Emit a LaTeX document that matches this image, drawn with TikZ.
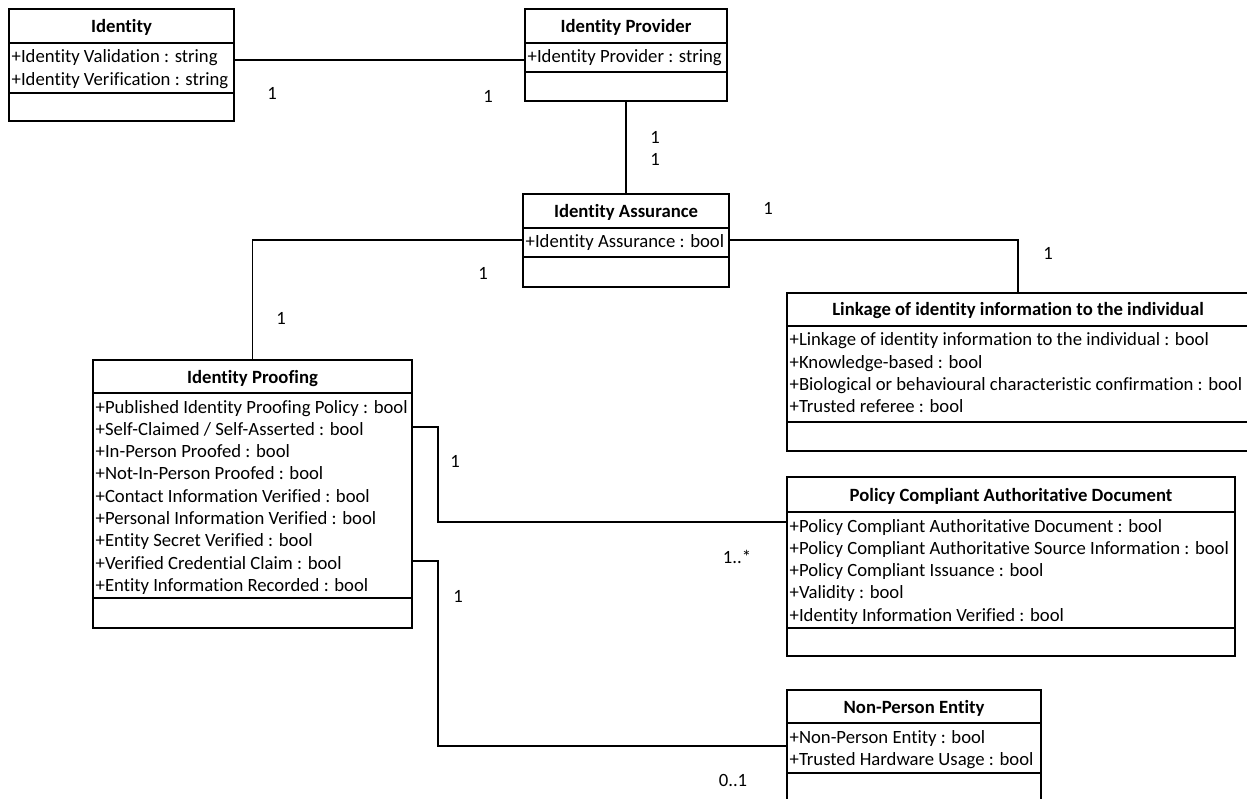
\documentclass[tikz,border=0pt]{standalone}
\usepackage{fontspec}
\setmainfont{Carlito}[Ligatures={NoCommon}]
\usetikzlibrary{fit}

\tikzset{
  txt/.style={font=\fontsize{18.7}{22.3}\selectfont},
  box/.style={draw, line width=1.5pt, inner sep=0pt},
  divider/.style={line width=1.5pt},
  title/.style={txt, font=\fontsize{18.7}{22.3}\selectfont\bfseries, anchor=base, inner sep=0pt},
  attr/.style={txt, anchor=base west, inner sep=0pt},
  mult/.style={txt, inner sep=0pt},
  link/.style={line width=1.5pt},
}

% UML class: name, left, top, right, header bottom, attribute bottom, bottom, title, attributes
\newcommand\umlclass[9]{%
  \coordinate (#1-nw) at (#2,#3);
  \coordinate (#1-se) at (#4,#7);
  \node[box, fit=(#1-nw)(#1-se)] (#1) {};
  \draw[divider] (#2,#5) -- (#4,#5) (#2,#6) -- (#4,#6);
  \node[title] (#1-t) at ({(#2+#4)/2},{(#3+#5)/2+6.5}) {#8};
  \foreach \t [count=\i] in {#9}
    \node[attr] (#1-\i) at ({#2+2.5},{#5+20+(\i-1)*22.3}) {\t};
}

\begin{document}
\begin{tikzpicture}[x=1pt,y=-1pt]
  \useasboundingbox (0,0) rectangle (1247,799);
  \fill[white] (0,0) rectangle (1247,799);
  \clip (0,0) rectangle (1247,799);

  \umlclass{id}{9}{9}{234}{43}{93}{121}{Identity}
    {+Identity Validation : string, +Identity Verification : string}
  \umlclass{ip}{525}{9}{727}{43}{72}{101}{Identity Provider}
    {+Identity Provider : string}
  \umlclass{ia}{523}{194}{729}{228}{257}{287}{Identity Assurance}
    {+Identity Assurance : bool}
  \umlclass{lk}{787}{293}{1249}{326}{422}{451}{Linkage of identity information to the individual}
    {+Linkage of identity information to the individual : bool,
     +Knowledge-based : bool,
     +Biological or behavioural characteristic confirmation : bool,
     +Trusted referee : bool}
  \umlclass{pr}{93}{360}{412}{393}{598}{628}{Identity Proofing}
    {+Published Identity Proofing Policy : bool,
     +Self-Claimed / Self-Asserted : bool,
     +In-Person Proofed : bool,
     +Not-In-Person Proofed : bool,
     +Contact Information Verified : bool,
     +Personal Information Verified : bool,
     +Entity Secret Verified : bool,
     +Verified Credential Claim : bool,
     +Entity Information Recorded : bool}
  \umlclass{pc}{787}{477}{1235}{512}{628}{656}{Policy Compliant Authoritative Document}
    {+Policy Compliant Authoritative Document : bool,
     +Policy Compliant Authoritative Source Information : bool,
     +Policy Compliant Issuance : bool,
     +Validity : bool,
     +Identity Information Verified : bool}
  \umlclass{np}{787}{690}{1041}{723}{773}{830}{Non-Person Entity}
    {+Non-Person Entity : bool, +Trusted Hardware Usage : bool}

  % associations
  \draw[link] (id.east |- 0,60) -- (ip.west |- 0,60);
  \draw[link] (ip.south) -- (ia.north);
  \draw[link] (ia.west |- 0,240) -| (pr.north);
  \draw[link] (ia.east |- 0,240) -| (lk.north);
  \draw[link] (pr.east |- 0,427) -- ++(25,0) |- (pc.west |- 0,522);
  \draw[link] (pr.east |- 0,561) -- ++(25,0) |- (np.west |- 0,746);

  % multiplicities
  \node[mult] (m-id) at (272,93) {1};
  \node[mult] (m-ip) at (488,96) {1};
  \node[mult] (m-ip2) at (655,137) {1};
  \node[mult] (m-ia1) at (655,159) {1};
  \node[mult] (m-ia2) at (483,273) {1};
  \node[mult] (m-pr1) at (281,318) {1};
  \node[mult] (m-ia3) at (768,208) {1};
  \node[mult] (m-lk) at (1048,253) {1};
  \node[mult] (m-pr2) at (455,461) {1};
  \node[mult] (m-pc) at (737,557) {1..*};
  \node[mult] (m-pr3) at (458,596) {1};
  \node[mult] (m-np) at (733,780) {0..1};
\end{tikzpicture}
\end{document}
